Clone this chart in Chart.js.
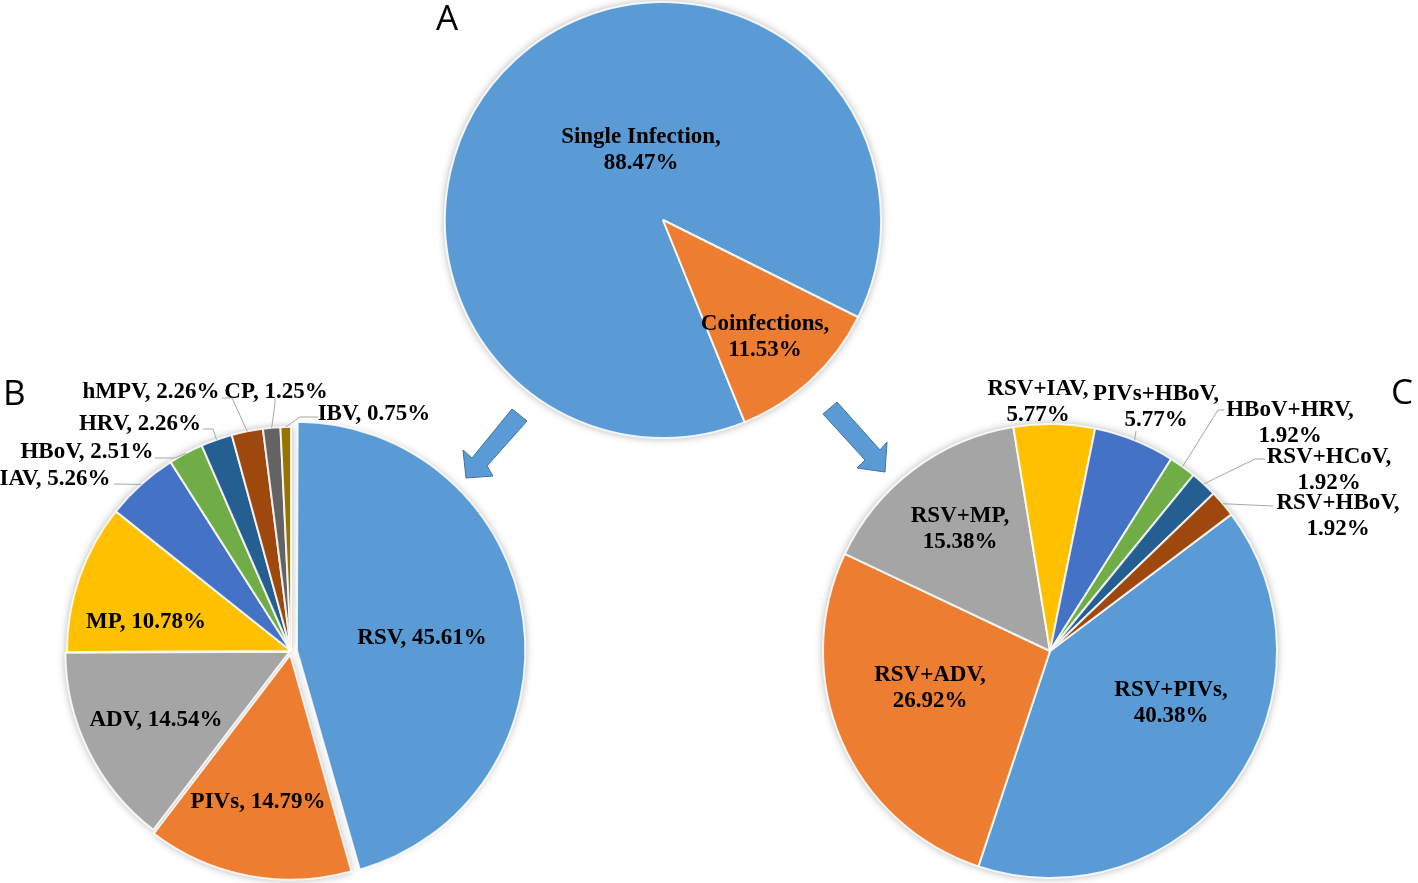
<!DOCTYPE html>
<html>
<head>
<meta charset="utf-8">
<title>Infection pies</title>
<script src="https://cdn.jsdelivr.net/npm/chart.js@4.4.1/dist/chart.umd.min.js"></script>
<style>
  html, body { margin: 0; padding: 0; background: #fff; }
  #wrap { position: relative; width: 1418px; height: 883px; }
  #wrap canvas { position: absolute; left: 0; top: 0; }
</style>
</head>
<body>
<div id="wrap">
  <canvas id="pieA" width="1418" height="883"></canvas>
  <canvas id="pieB" width="1418" height="883"></canvas>
  <canvas id="pieC" width="1418" height="883"></canvas>
</div>
<script>
// --- data ---
const aLabels = ['Single Infection', 'Coinfections'];
const aValues = [88.47, 11.53];

const bLabels = ['RSV', 'PIVs', 'ADV', 'MP', 'IAV', 'HBoV', 'HRV', 'hMPV', 'CP', 'IBV'];
const bValues = [45.61, 14.79, 14.54, 10.78, 5.26, 2.51, 2.26, 2.26, 1.25, 0.75];

const cLabels = ['RSV+PIVs', 'RSV+ADV', 'RSV+MP', 'RSV+IAV', 'PIVs+HBoV', 'HBoV+HRV', 'RSV+HCoV', 'RSV+HBoV'];
const cValues = [40.38, 26.92, 15.38, 5.77, 5.77, 1.92, 1.92, 1.92];

// office palette
const palette = ['#5B9BD5', '#ED7D31', '#A5A5A5', '#FFC000', '#4472C4', '#70AD47', '#255E91', '#9E480E', '#636363', '#997300'];

const W = 1418, H = 883;
const LABEL_FONT = 'bold 23px "Liberation Serif", "Times New Roman", serif';

// label placement (page pixels), leader = points from text towards the slice edge
const aLayout = [
    { x: 641, y: 135 },
    { x: 765, y: 322 }
];
const bLayout = [
    { x: 422, y: 636 },
    { x: 258, y: 800 },
    { x: 156, y: 718 },
    { x: 146, y: 620 },
    { x: 55, y: 477, leader: [[114, 484]] },
    { x: 87, y: 450, leader: [[155, 458], [175, 458]] },
    { x: 140, y: 422, leader: [[203, 429], [213, 429]] },
    { x: 151, y: 390, leader: [[222, 398], [232, 398]] },
    { x: 276, y: 390, leader: [[275, 398], [275, 404]] },
    { x: 374, y: 412, leader: [[318, 417], [300, 417]] }
];
const cLayout = [
    { x: 1171, y: 688 },
    { x: 930, y: 673 },
    { x: 960, y: 514 },
    { x: 1038, y: 387 },
    { x: 1156, y: 392, leader: [[1136, 431]] },
    { x: 1290, y: 408, leader: [[1224, 410], [1218, 410]] },
    { x: 1329, y: 455, leader: [[1265, 459], [1255, 459]] },
    { x: 1338, y: 501, leader: [[1273, 506]] }
];

const sliceLabels = {
    id: 'sliceLabels',
    afterDatasetsDraw(chart, args, opts) {
        const ctx = chart.ctx;
        const meta = chart.getDatasetMeta(0);
        const ds = chart.data.datasets[0];
        ctx.save();
        ctx.font = LABEL_FONT;
        ctx.fillStyle = '#000';
        ctx.textAlign = 'center';
        ctx.textBaseline = 'alphabetic';
        opts.layout.forEach((pos, i) => {
            const arc = meta.data[i];
            const name = chart.data.labels[i];
            const pct = ds.data[i].toFixed(2) + '%';
            if (pos.leader) {
                const mid = (arc.startAngle + arc.endAngle) / 2;
                const ex = arc.x + Math.cos(mid) * arc.outerRadius;
                const ey = arc.y + Math.sin(mid) * arc.outerRadius;
                ctx.beginPath();
                ctx.strokeStyle = '#a6a6a6';
                ctx.lineWidth = 1;
                ctx.moveTo(pos.leader[0][0], pos.leader[0][1]);
                pos.leader.slice(1).forEach(p => ctx.lineTo(p[0], p[1]));
                ctx.lineTo(ex, ey);
                ctx.stroke();
            }
            if (opts.twoLine) {
                ctx.fillText(name + ',', pos.x, pos.y + 8);
                ctx.fillText(pct, pos.x, pos.y + 34);
            } else {
                ctx.fillText(name + ', ' + pct, pos.x, pos.y + 8);
            }
        });
        ctx.restore();
    }
};

// soft shadow under each slice, like the office effect
const pieShadow = {
    id: 'pieShadow',
    beforeDatasetsDraw(chart) {
        const ctx = chart.ctx;
        const meta = chart.getDatasetMeta(0);
        ctx.save();
        ctx.shadowColor = 'rgba(0,0,0,0.35)';
        ctx.shadowBlur = 9;
        ctx.fillStyle = '#fff';
        meta.data.forEach(arc => {
            const off = (arc.options.offset || 0) / 4;
            const circ = arc.endAngle - arc.startAngle;
            const fix = 1 - Math.sin(Math.min(Math.PI, circ));
            const t = off + off * fix;
            const mid = (arc.startAngle + arc.endAngle) / 2;
            const x = arc.x + Math.cos(mid) * t;
            const y = arc.y + Math.sin(mid) * t;
            ctx.beginPath();
            ctx.moveTo(x, y);
            ctx.arc(x, y, arc.outerRadius, arc.startAngle, arc.endAngle);
            ctx.closePath();
            ctx.fill();
        });
        ctx.restore();
    }
};

const decorations = {
    id: 'decorations',
    afterDraw(chart) {
        const ctx = chart.ctx;
        ctx.save();
        const arrows = [
            [[512, 409], [527, 421], [487, 466], [493, 476], [466, 478], [463, 450], [472, 458]],
            [[837, 402], [880, 450], [887, 442], [885, 472], [857, 468], [865, 460], [823, 414]]
        ];
        arrows.forEach(pts => {
            ctx.beginPath();
            ctx.moveTo(pts[0][0], pts[0][1]);
            pts.slice(1).forEach(p => ctx.lineTo(p[0], p[1]));
            ctx.closePath();
            ctx.fillStyle = '#5B9BD5';
            ctx.fill();
            ctx.strokeStyle = '#41719C';
            ctx.lineWidth = 1;
            ctx.stroke();
        });
        ctx.fillStyle = '#000';
        ctx.font = '35px "Open Sans", "DejaVu Sans", sans-serif';
        ctx.textAlign = 'left';
        ctx.fillText('A', 436, 30);
        ctx.fillText('B', 3, 405);
        ctx.fillText('C', 1391, 404);
        ctx.restore();
    }
};

function makePie(id, labels, values, geo, layout, twoLine, offsets, extraPlugins) {
    new Chart(document.getElementById(id), {
        type: 'pie',
        data: {
            labels: labels,
            datasets: [{
                data: values,
                backgroundColor: palette.slice(0, values.length),
                borderColor: 'rgba(255,255,255,0.85)',
                borderWidth: 2,
                offset: offsets,
                hoverOffset: 0,
                radius: geo.r,
                rotation: geo.rotation
            }]
        },
        options: {
            responsive: false,
            animation: false,
            events: [],
            layout: {
                padding: {
                    left: geo.cx - geo.r,
                    right: W - geo.cx - geo.r,
                    top: geo.cy - geo.r,
                    bottom: H - geo.cy - geo.r
                }
            },
            plugins: {
                legend: { display: false },
                tooltip: { enabled: false },
                sliceLabels: { layout: layout, twoLine: twoLine }
            }
        },
        plugins: [pieShadow, sliceLabels].concat(extraPlugins || [])
    });
}

makePie('pieA', aLabels, aValues, { cx: 663, cy: 220, r: 218, rotation: 158 }, aLayout, true, 0, [decorations]);
makePie('pieB', bLabels, bValues, { cx: 291, cy: 651, r: 224, rotation: 0 }, bLayout, false,
    [24, 16, 6, 0, 0, 0, 0, 0, 0, 0]);
makePie('pieC', cLabels, cValues, { cx: 1050, cy: 651, r: 227, rotation: 53 }, cLayout, true, 0);
</script>
</body>
</html>
